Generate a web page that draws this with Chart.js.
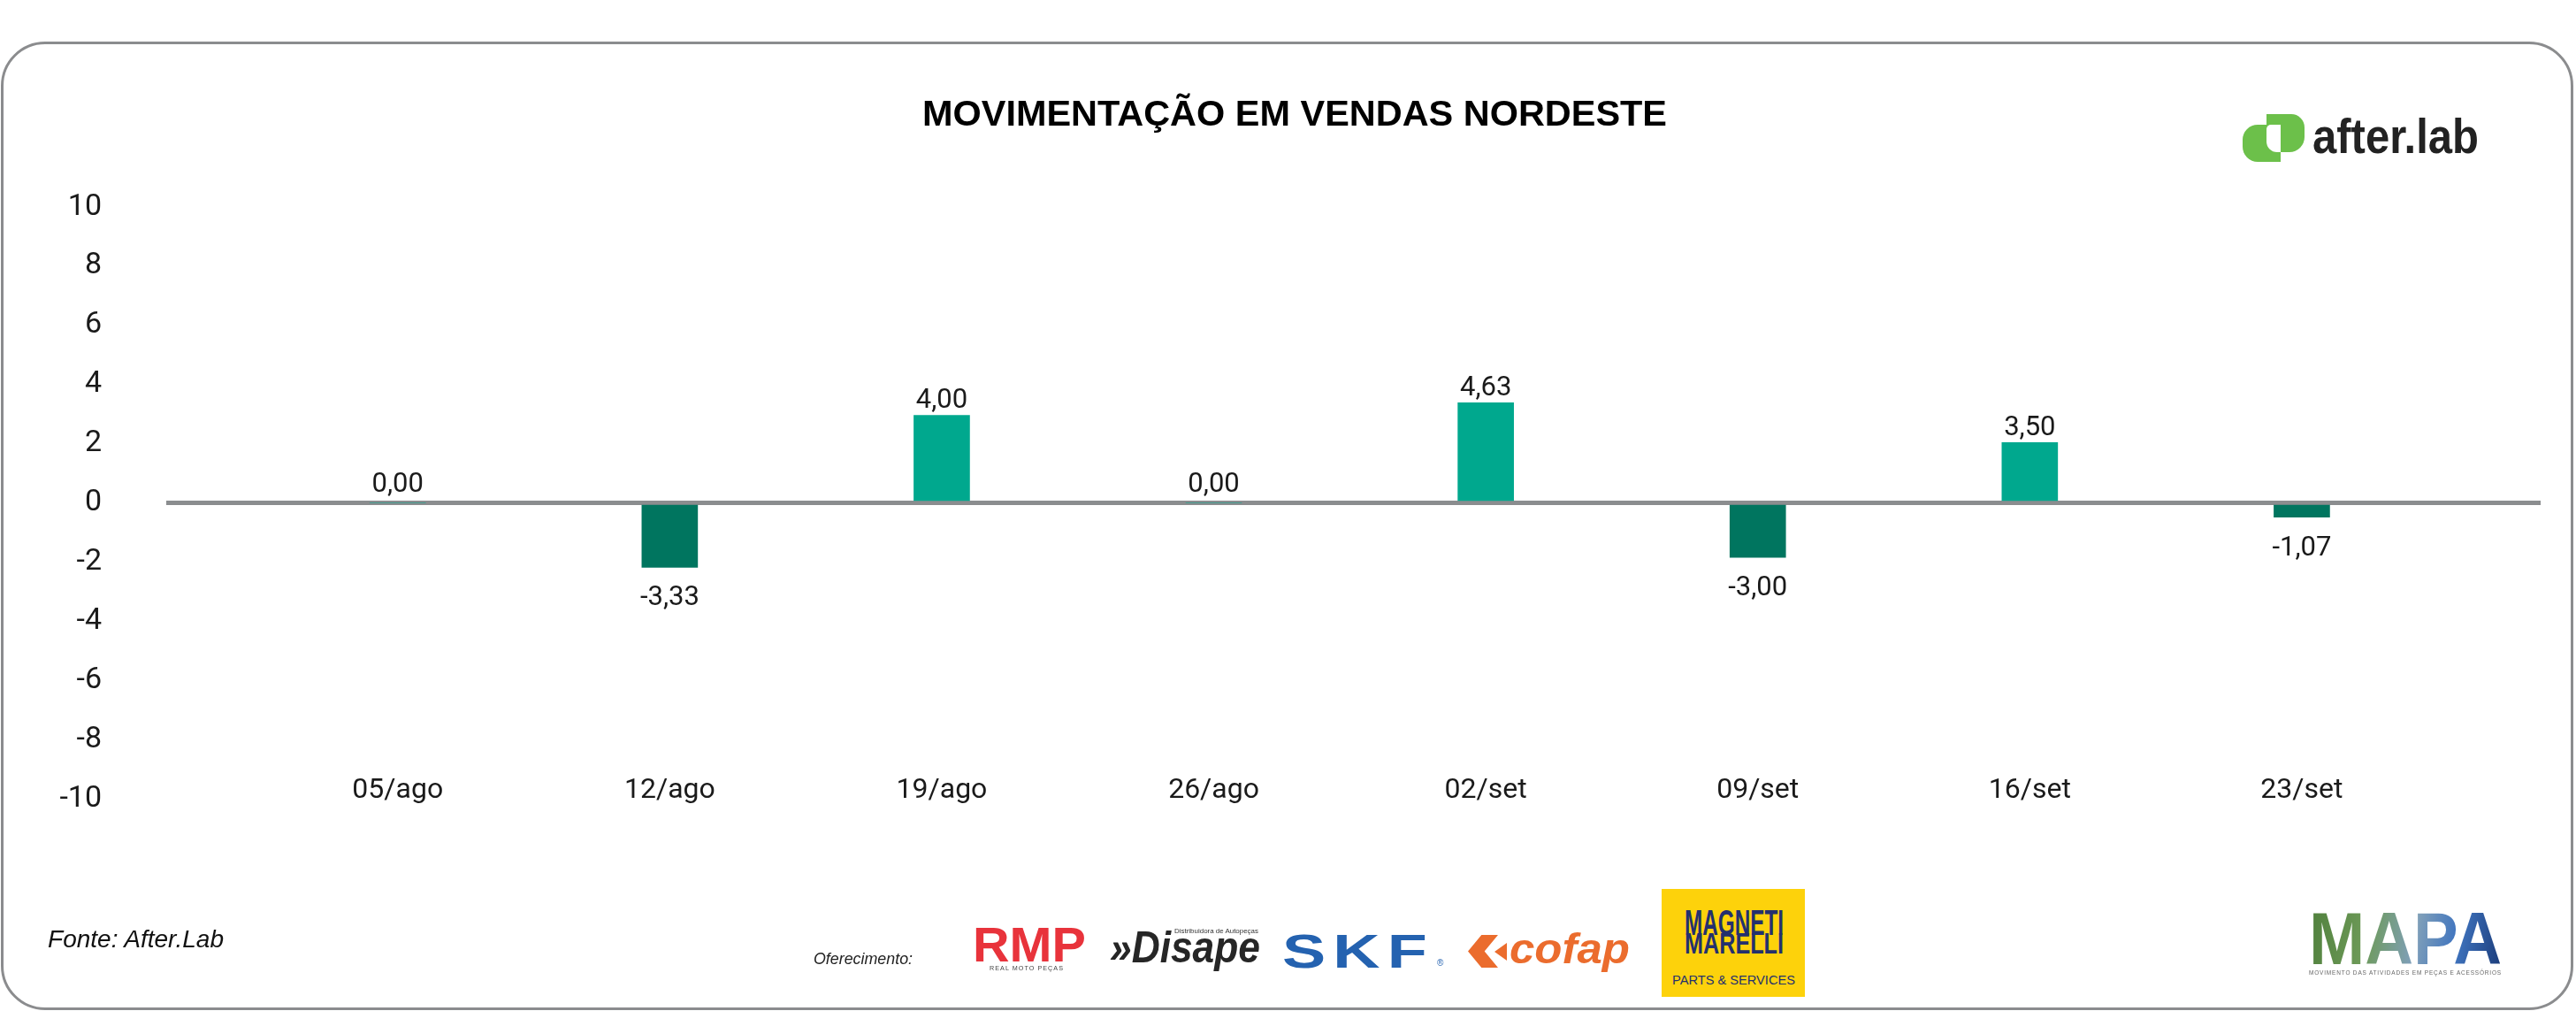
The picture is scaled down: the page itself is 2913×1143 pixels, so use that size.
<!DOCTYPE html>
<html lang="pt-BR">
<head>
<meta charset="utf-8">
<title>Movimentação em vendas Nordeste</title>
<script src="https://cdn.jsdelivr.net/npm/chart.js@4.4.1/dist/chart.umd.min.js"></script>
<style>
  html, body { margin: 0; padding: 0; background: #fff; }
  body { width: 2913px; height: 1143px; position: relative; overflow: hidden; font-family: "Liberation Sans", Arial, sans-serif; }
  .abs { position: absolute; white-space: nowrap; line-height: 1; }
  #moldura { position: absolute; left: 1px; top: 47px; width: 2909px; height: 1095px; box-sizing: border-box;
    border: 3.5px solid #8b8c8e; border-radius: 50px; }
  #grafico { position: absolute; left: 0; top: 0; }
  #titulo { font-weight: bold; font-size: 41px; color: #000; }
  .verde { position: absolute; background: #6cc04a; }
</style>
</head>
<body>
<div id="moldura"></div>
<canvas id="grafico" width="2913" height="1143"></canvas>

<div id="titulo" class="abs" style="left:1043px; top:108px;" data-w="842">MOVIMENTAÇÃO EM VENDAS NORDESTE</div>

<!-- logo after.lab -->
<div class="verde" style="left:2536px; top:141px; width:43px; height:42px; border-radius:17px 0 0 17px;"></div>
<div class="verde" style="left:2563px; top:129px; width:43px; height:43px; border-radius:0 15px 17px 0;"></div>
<div style="position:absolute; left:2563px; top:141px; width:16px; height:31px; background:#fff; border-radius:5px 0 0 12px;"></div>
<div class="abs" style="left:2615px; top:126px; font-size:56px; font-weight:bold; color:#222;" data-w="188">after.lab</div>

<!-- rodapé -->
<div class="abs" style="left:54px; top:1048px; font-size:28px; font-style:italic; color:#111;" data-w="199">Fonte: After.Lab</div>
<div class="abs" style="left:920px; top:1075px; font-size:18px; font-style:italic; color:#222;" data-w="112">Oferecimento:</div>

<div class="abs" style="left:1100px; top:1040px; font-size:56px; font-weight:900; color:#e8333b;" data-w="128">RMP</div>
<div class="abs" style="left:1119px; top:1091px; font-size:7px; color:#444; letter-spacing:1px;" data-w="84">REAL MOTO PEÇAS</div>

<div class="abs" style="left:1255px; top:1046px; font-size:50px; font-weight:bold; font-style:italic; color:#262626;" data-w="170">»Disape</div>
<div class="abs" style="left:1328px; top:1049px; font-size:7px; color:#333;" data-w="95">Distribuidora de Autopeças</div>

<div class="abs" style="left:1450px; top:1048px; font-size:54px; font-weight:bold; color:#2462b0; letter-spacing:6px;" data-w="172">SKF</div>
<div class="abs" style="left:1625px; top:1084px; font-size:10px; color:#2462b0;">®</div>

<div style="position:absolute; left:1660px; top:1057px; width:34px; height:37px; background:#eb6c2d; clip-path:polygon(45% 0,100% 0,55% 50%,100% 100%,45% 100%,0 50%);"></div>
<div style="position:absolute; left:1690px; top:1066px; width:14px; height:20px; background:#eb6c2d; clip-path:polygon(0 50%,100% 0,100% 100%);"></div>
<div class="abs" style="left:1707px; top:1049px; font-size:48px; font-weight:bold; font-style:italic; color:#eb6c2d;" data-w="136">cofap</div>

<div style="position:absolute; left:1879px; top:1005px; width:162px; height:122px; background:#fdd20b;"></div>
<div class="abs" style="left:1905px; top:1023px; font-size:40px; font-weight:bold; color:#24306e;" data-w="112">MAGNETI</div>
<div class="abs" style="left:1905px; top:1049px; font-size:34px; font-weight:bold; color:#24306e;" data-w="112">MARELLI</div>
<div class="abs" style="left:1891px; top:1100px; font-size:15px; color:#24306e;" data-w="139">PARTS &amp; SERVICES</div>

<div class="abs" style="left:2611px; top:1019px; font-size:84px; font-weight:bold; color:transparent;
  background:linear-gradient(100deg,#4f7f3c 0%,#6d9a58 30%,#7f9fb9 55%,#3f74bf 75%,#1a3a78 100%);
  -webkit-background-clip:text; background-clip:text;" data-w="218">MAPA</div>
<div class="abs" style="left:2611px; top:1096px; font-size:8px; color:#666; letter-spacing:1px;" data-w="218">MOVIMENTO DAS ATIVIDADES EM PEÇAS E ACESSÓRIOS</div>

<script>
// === Dados ===
const categorias = ["05/ago", "12/ago", "19/ago", "26/ago", "02/set", "09/set", "16/set", "23/set"];
const alturas = [0, -2.18, 2.96, 0, 3.38, -1.84, 2.04, -0.48];
// rótulos impressos sobre as barras
const rotulos = ["0,00", "-3,33", "4,00", "0,00", "4,63", "-3,00", "3,50", "-1,07"];
const ticksY = [10, 8, 6, 4, 2, 0, -2, -4, -6, -8, -10];

// === Ajuste de largura dos textos/logos ===
function ajustarLarguras() {
  document.querySelectorAll("[data-w]").forEach(el => {
    el.style.transform = "";
    const w = el.getBoundingClientRect().width;
    el.style.transformOrigin = "left top";
    el.style.transform = `scaleX(${parseFloat(el.dataset.w) / w})`;
  });
}

// === Plugin de rótulos ===
const rotulosPlugin = {
  id: "rotulosBarras",
  afterDatasetsDraw(chart) {
    const { ctx } = chart;
    const meta = chart.getDatasetMeta(0);
    ctx.save();
    ctx.font = "31px Roboto";
    ctx.fillStyle = "#1a1a1a";
    ctx.textAlign = "center";
    ctx.textBaseline = "alphabetic";
    meta.data.forEach((bar, i) => {
      const v = alturas[i];
      let y;
      if (v < 0) y = bar.y + 43;
      else if (v === 0) y = bar.y - 13;
      else y = bar.y - 8;
      ctx.fillText(rotulos[i], bar.x, y);
    });
    ctx.restore();
  }
};

// === Gráfico ===
function desenhar() {
  ajustarLarguras();
  const ctx = document.getElementById("grafico").getContext("2d");
  new Chart(ctx, {
    type: "bar",
    data: {
      datasets: [{
        data: alturas.map((v, i) => ({ x: i, y: v })),
        backgroundColor: alturas.map(v => v < 0 ? "#00755f" : "#00a88e"),
        borderWidth: 0,
        barThickness: 63
      }]
    },
    options: {
      responsive: false,
      devicePixelRatio: 1,
      animation: false,
      layout: { padding: { top: 234, bottom: 240, left: 0, right: 40 } },
      plugins: { legend: { display: false }, tooltip: { enabled: false }, title: { display: false } },
      scales: {
        x: {
          type: "linear",
          min: -0.851,
          max: 7.878,
          offset: false,
          grid: { display: false, drawTicks: false },
          border: { display: false },
          afterBuildTicks: s => { s.ticks = categorias.map((c, i) => ({ value: i })); },
          afterFit: s => { s.height = 0; },
          ticks: {
            autoSkip: false,
            maxRotation: 0,
            mirror: true,      // rótulos dentro da área, na altura do -10
            padding: -10,
            color: "#1a1a1a",
            font: { family: "Roboto", size: 32 },
            callback: v => categorias[v] ?? ""
          }
        },
        y: {
          min: -10,
          max: 10,
          z: 1,
          grid: {
            color: c => c.tick && c.tick.value === 0 ? "#8b8d8f" : "rgba(0,0,0,0)",
            lineWidth: 5,
            drawTicks: false
          },
          border: { display: false },
          afterBuildTicks: s => { s.ticks = ticksY.map(v => ({ value: v })); },
          afterFit: s => { s.width = 188; },
          ticks: {
            padding: 73,
            color: "#1a1a1a",
            font: { family: "Roboto", size: 34 },
            callback: v => String(v)
          }
        }
      }
    },
    plugins: [rotulosPlugin]
  });
}

if (document.fonts && document.fonts.ready) {
  document.fonts.ready.then(desenhar);
} else {
  desenhar();
}
</script>
</body>
</html>
